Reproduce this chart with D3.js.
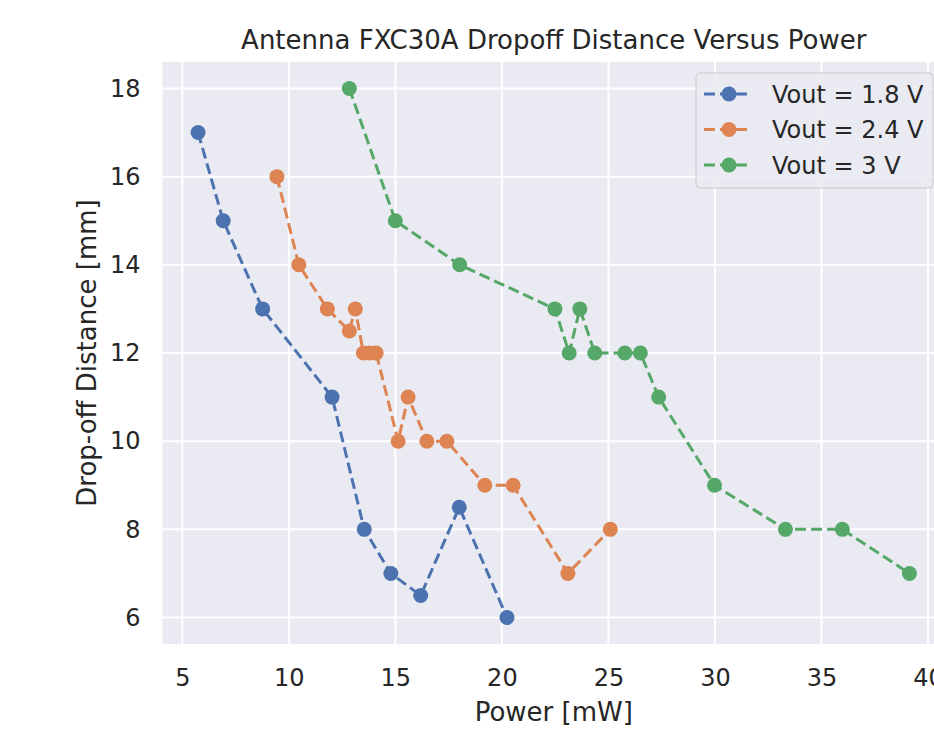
<!DOCTYPE html>
<html>
<head>
<meta charset="utf-8">
<script src="https://cdn.jsdelivr.net/npm/d3@7"></script>
<style>
  body { margin: 0; background: #fff; }
  svg { display: block; font-family: "DejaVu Sans", sans-serif; }
</style>
</head>
<body>
<div id="app"></div>
<script>
// values
const blueX = [5.74, 6.92, 8.77, 12.03, 13.54, 14.79, 16.19, 18.0, 20.24];
const blueY = [17, 15, 13, 11, 8, 7, 6.5, 8.5, 6];
const orangeX = [9.44, 10.47, 11.81, 12.84, 13.12, 13.5, 13.8, 14.1, 15.13, 15.6, 16.48, 17.42, 19.2, 20.53, 23.1, 25.09];
const orangeY = [16, 14, 13, 12.5, 13, 12, 12, 12, 10, 11, 10, 10, 9, 9, 7, 8];
const greenX = [12.84, 15.0, 18.02, 22.49, 23.16, 23.66, 24.36, 25.77, 26.5, 27.36, 29.98, 33.31, 35.98, 39.13];
const greenY = [18, 15, 14, 13, 12, 13, 12, 12, 12, 11, 9, 8, 8, 7];
const seriesNames = ["Vout = 1.8 V", "Vout = 2.4 V", "Vout = 3 V"];
const seriesColors = ["#4c72b0", "#dd8452", "#55a868"];
const xTicks = [5, 10, 15, 20, 25, 30, 35, 40];
const yTicks = [6, 8, 10, 12, 14, 16, 18];

const width = 934, height = 729;
const plotL = 162.5, plotR = 945, plotT = 62, plotB = 644;

const series = [[blueX, blueY], [orangeX, orangeY], [greenX, greenY]].map((s, i) => ({
  name: seriesNames[i], color: seriesColors[i],
  pts: s[0].map((x, j) => [x, s[1][j]])
}));

const allX = [].concat(blueX, orangeX, greenX);
const allY = [].concat(blueY, orangeY, greenY);
const xmin = d3.min(allX), xmax = d3.max(allX), ymin = d3.min(allY), ymax = d3.max(allY);
const xpad = (xmax - xmin) * 0.05, ypad = (ymax - ymin) * 0.05;

const x = d3.scaleLinear().domain([xmin - xpad, xmax + xpad]).range([plotL, plotR]);
const y = d3.scaleLinear().domain([ymin - ypad, ymax + ypad]).range([plotB, plotT]);

const svg = d3.select("#app").append("svg").attr("width", width).attr("height", height);
svg.append("rect").attr("width", width).attr("height", height).attr("fill", "#fff");

svg.append("rect").attr("x", plotL).attr("y", plotT).attr("width", plotR - plotL).attr("height", plotB - plotT).attr("fill", "#eaeaf2");

// grid
svg.append("g").selectAll("line").data(xTicks).join("line")
  .attr("x1", d => x(d)).attr("x2", d => x(d)).attr("y1", plotT).attr("y2", plotB)
  .attr("stroke", "#fff").attr("stroke-width", 2);
svg.append("g").selectAll("line").data(yTicks).join("line")
  .attr("x1", plotL).attr("x2", plotR).attr("y1", d => y(d)).attr("y2", d => y(d))
  .attr("stroke", "#fff").attr("stroke-width", 2);

// axes (labels only, no tick marks)
const xAxis = svg.append("g").attr("transform", `translate(0,${plotB})`)
  .call(d3.axisBottom(x).tickValues(xTicks).tickSize(0).tickPadding(25).tickFormat(d3.format("d")));
const yAxis = svg.append("g").attr("transform", `translate(${plotL},0)`)
  .call(d3.axisLeft(y).tickValues(yTicks).tickSize(0).tickPadding(22).tickFormat(d3.format("d")));
[xAxis, yAxis].forEach(a => {
  a.select(".domain").remove();
  a.selectAll("text").attr("fill", "#262626").attr("font-size", 24).attr("font-family", "DejaVu Sans");
});

// lines + markers
const line = d3.line().x(d => x(d[0])).y(d => y(d[1]));
series.forEach(s => {
  svg.append("path").datum(s.pts).attr("d", line).attr("fill", "none")
    .attr("stroke", s.color).attr("stroke-width", 3).attr("stroke-dasharray", "11,5");
  svg.append("g").selectAll("circle").data(s.pts).join("circle")
    .attr("cx", d => x(d[0])).attr("cy", d => y(d[1])).attr("r", 7.5).attr("fill", s.color);
});

// title & axis labels
svg.append("text").attr("x", (plotL + plotR) / 2).attr("y", 48.5).attr("text-anchor", "middle")
  .attr("font-size", 26).attr("fill", "#262626").text("Antenna FXC30A Dropoff Distance Versus Power");
svg.append("text").attr("x", (plotL + plotR) / 2).attr("y", 721).attr("text-anchor", "middle")
  .attr("font-size", 26).attr("fill", "#262626").text("Power [mW]");
svg.append("text").attr("transform", `translate(96,${(plotT + plotB) / 2}) rotate(-90)`).attr("text-anchor", "middle")
  .attr("font-size", 26).attr("fill", "#262626").text("Drop-off Distance [mm]");

// legend
const lg = svg.append("g").attr("transform", "translate(696,73)");
lg.append("rect").attr("width", 237).attr("height", 115).attr("rx", 4)
  .attr("fill", "#eaeaf2").attr("fill-opacity", 0.85).attr("stroke", "#cccccc").attr("stroke-width", 1);
series.forEach((s, i) => {
  const row = lg.append("g").attr("transform", `translate(0,${21 + i * 35.5})`);
  row.append("line").attr("x1", 8).attr("x2", 56).attr("stroke", s.color).attr("stroke-width", 3)
    .attr("stroke-dasharray", "11,5");
  row.append("circle").attr("cx", 33).attr("r", 7.5).attr("fill", s.color);
  row.append("text").attr("x", 76).attr("y", 8.5).attr("font-size", 24).attr("fill", "#262626").text(s.name);
});
</script>
</body>
</html>
